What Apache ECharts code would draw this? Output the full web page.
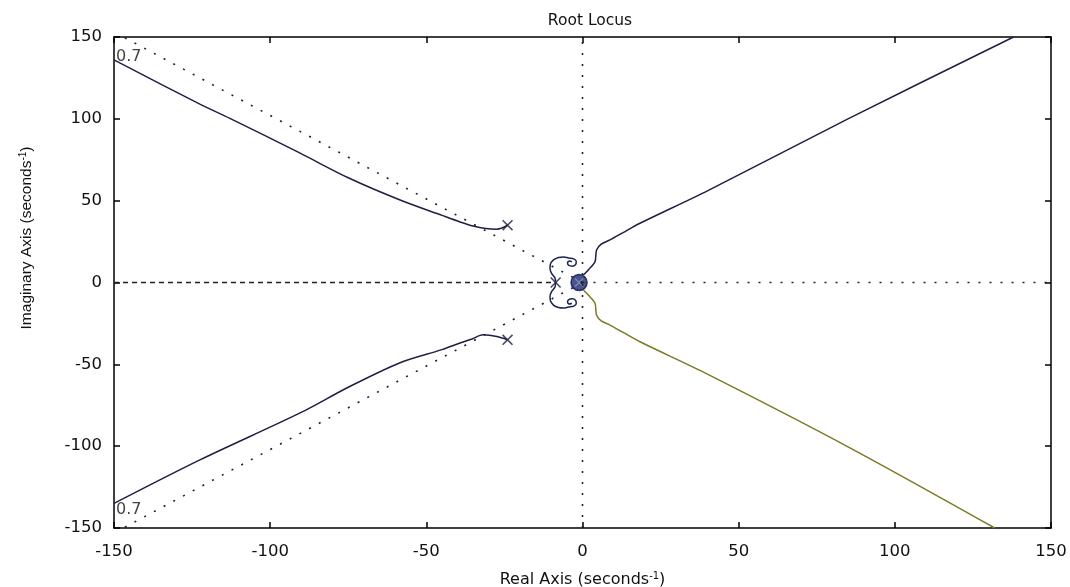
<!DOCTYPE html>
<html lang="en">

<head>
    <meta charset="UTF-8">
    <title>Root Locus</title>
    <script type="text/javascript" src="https://cdn.jsdelivr.net/npm/echarts@6/dist/echarts.min.js"></script>
    <style>
        html, body { margin: 0; padding: 0; background: #fff; }
    </style>
</head>

<body>
    <div id="main" style="width: 1070px; height: 587px;"></div>

    <script type="text/javascript">
        // axis ticks
        var tickValues = [-150, -100, -50, 0, 50, 100, 150];

        // root locus branches, [real, imag]
        var upperLeft = [[-24, 35], [-27.4, 32.6], [-31, 33], [-35, 34.5], [-39.2, 37], [-45, 41], [-58.4, 50.4],
            [-75, 64], [-90.4, 79], [-112.9, 100.3], [-122.5, 109], [-150, 136]];
        var lowerLeft = [[-24, -35], [-27.4, -33], [-31.8, -32], [-35.4, -34.5], [-39.2, -37], [-45, -41], [-58.4, -49],
            [-75, -64], [-90.4, -79.7], [-122.5, -108.4], [-150, -135]];
        var upperRight = [[0.3, 4.6], [2, 8], [4, 12.7], [4.5, 19.9], [6, 23.5], [8.8, 26], [13, 30.5], [18.4, 36.2],
            [40, 56], [85, 100], [138, 150]];
        var lowerRight = [[0.3, -4.6], [2, -8], [4, -12.7], [4.5, -19.9], [6, -23.5], [8.8, -26], [13, -30.5], [18.4, -36.2],
            [40, -56], [85.6, -101], [132, -150]];
        var upperLoop = [[-8.6, 0], [-8.8, 2.7], [-9.9, 5.6], [-10.4, 8.5], [-10.3, 11], [-9.3, 13.8], [-7.7, 15.3],
            [-6, 15.6], [-4.5, 15], [-2.8, 14.4], [-2, 12.8], [-2.2, 11], [-3.2, 10], [-4.4, 10.4], [-4.8, 12],
            [-4.2, 13.2], [-3.4, 12.7]];
        var lowerLoop = upperLoop.map(function (p) { return [p[0], -p[1]]; });

        // poles (x) and the zero/pole cluster at the origin
        var poles = [[-24, 35], [-24, -35], [-8.6, 0]];
        var cluster = [[-1.1, 0]];

        // damping 0.7 grid lines and labels
        var dampUpper = [[0, 0], [-147, 150]];
        var dampLower = [[0, 0], [-147, -150]];
        var dampLabels = [[-150, 138], [-150, -139]];
        var realAxisLocus = [[-150, 0], [-8.6, 0]];
        var imagAxis = [[0, -150], [0, 150]];
        var realAxisRight = [[0, 0], [150, 0]];

        var font = 'DejaVu Sans';
        var xShape = 'path://M0,1L1,0L5,4L9,0L10,1L6,5L10,9L9,10L5,6L1,10L0,9L4,5Z';

        function guide(data, dash) {
            return {
                type: 'line', data: data, symbol: 'none', silent: true,
                lineStyle: { color: '#222', width: 1.6, type: dash }
            };
        }

        function branch(data, color) {
            return {
                type: 'line', data: data, symbol: 'none', smooth: 0.3,
                lineStyle: { color: color, width: 1.5 }
            };
        }

        var valueAxis = function (pos, showLabel) {
            return {
                type: 'value', position: pos, min: -150, max: 150, interval: 50,
                axisLine: { show: true, onZero: false, lineStyle: { color: '#000', width: 1.5 } },
                axisTick: { show: true, inside: true, length: 6, lineStyle: { color: '#000', width: 1.5 } },
                axisLabel: { show: showLabel, color: '#111', fontFamily: font, fontSize: 16.5, margin: 12 },
                splitLine: { show: false }
            };
        };

        var myChart = echarts.init(document.getElementById('main'));

        var xMain = valueAxis('bottom', true);
        xMain.axisLabel.margin = 15;
        xMain.name = '{n|Real Axis (seconds}{s|-1}{n|)}';
        xMain.nameLocation = 'middle';
        xMain.nameGap = 43;
        xMain.nameTextStyle = {
            rich: {
                n: { fontFamily: font, fontSize: 16, color: '#111' },
                s: { fontFamily: font, fontSize: 10, color: '#111', verticalAlign: 'top', padding: [0, 0, 8, 0] }
            }
        };

        myChart.setOption({
            animation: false,
            title: {
                text: 'Root Locus', left: 585, top: 8, textAlign: 'center',
                textStyle: { fontFamily: font, fontSize: 15.5, fontWeight: 'normal', color: '#111' }
            },
            grid: { left: 114, right: 19, top: 37, bottom: 59, outerBoundsMode: 'none' },
            xAxis: [xMain, valueAxis('top', false)],
            yAxis: [valueAxis('left', true), valueAxis('right', false)],
            graphic: [{
                type: 'text', x: 27, y: 238, rotation: Math.PI / 2,
                style: {
                    text: '{n|Imaginary Axis (seconds}{s|-1}{n|)}',
                    textAlign: 'center', textVerticalAlign: 'middle',
                    rich: {
                        n: { fontFamily: 'Liberation Sans', fontSize: 15.5, fill: '#111' },
                        s: { fontFamily: 'Liberation Sans', fontSize: 10, fill: '#111', padding: [0, 0, 8, 0] }
                    }
                }
            }],
            series: [
                guide(dampUpper, [2, 9]),
                guide(dampLower, [2, 9]),
                guide(imagAxis, [2, 9]),
                guide(realAxisRight, [2, 9]),
                guide(realAxisLocus, [5, 4]),
                branch(upperLeft, '#1e1f45'),
                branch(lowerLeft, '#1e1f45'),
                branch(upperRight, '#1e1f45'),
                branch(lowerRight, '#7d7a24'),
                branch(upperLoop, '#1c2650'),
                branch(lowerLoop, '#1c2650'),
                {
                    type: 'scatter', data: cluster, symbol: 'circle', symbolSize: 16,
                    itemStyle: { color: '#1b2870', borderColor: '#0d1450', borderWidth: 1.5 }
                },
                {
                    type: 'scatter', data: cluster, symbol: xShape, symbolSize: 9,
                    itemStyle: { color: '#8a96c8' }
                },
                {
                    type: 'scatter', data: poles, symbol: xShape, symbolSize: 11,
                    itemStyle: { color: '#1a1a3a' }
                },
                {
                    type: 'scatter', data: dampLabels, symbolSize: 0,
                    label: {
                        show: true, position: 'right', distance: 2, formatter: '0.7',
                        fontFamily: font, fontSize: 16, color: '#111'
                    }
                }
            ]
        });
    </script>

</body>

</html>
